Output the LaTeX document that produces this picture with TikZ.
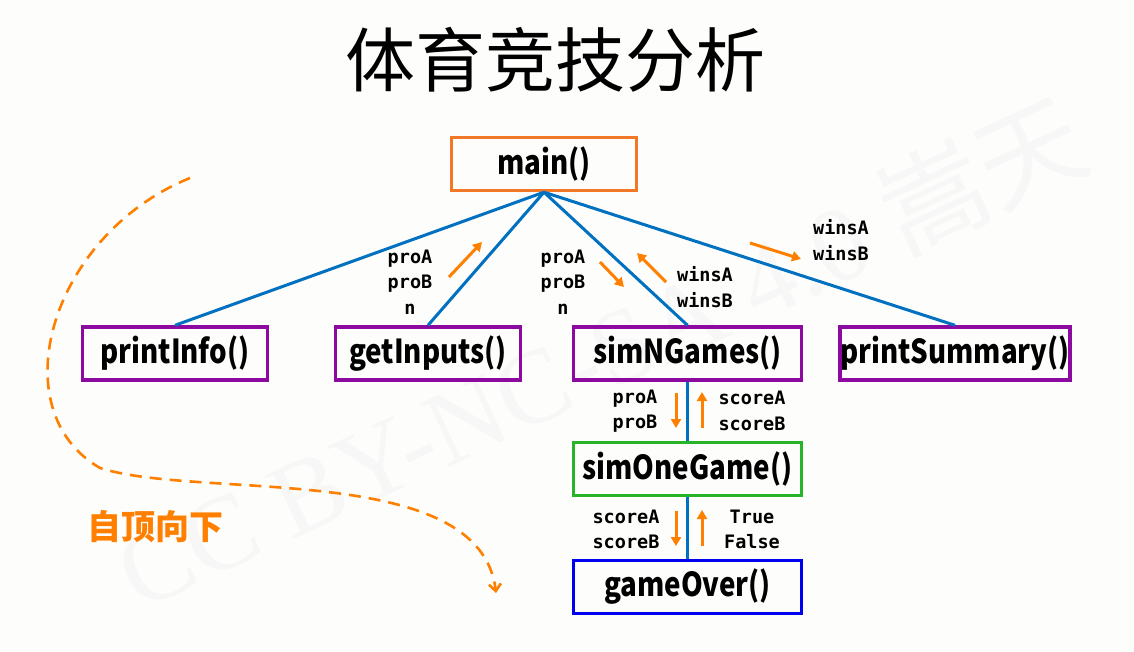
\documentclass[tikz,border=0pt]{standalone}
\usepackage{fontspec}
\setmainfont{Open Sans}
\setmonofont{DejaVu Sans Mono}
\newfontfamily\cjk{Noto Sans CJK SC}
\newfontfamily\boxfont[FakeStretch=0.84]{Noto Sans CJK SC}
\newfontfamily\markfont{Liberation Serif}
\usetikzlibrary{arrows.meta}
\definecolor{mainorange}{RGB}{242,120,40}
\definecolor{funcpurple}{RGB}{140,10,160}
\definecolor{gamegreen}{RGB}{40,180,40}
\definecolor{overblue}{RGB}{0,0,240}
\definecolor{callblue}{RGB}{0,112,192}
\definecolor{floworange}{RGB}{255,128,0}

\begin{document}
\begin{tikzpicture}[x=1pt,y=-1pt,
  func/.style={rectangle, draw=#1, line width=3.4pt, minimum height=53pt, inner sep=0pt,
    font=\boxfont\bfseries\fontsize{33}{35}\selectfont},
  call/.style={draw=callblue, line width=3pt},
  data/.style={font=\fontsize{18.5}{25.5}\selectfont\ttfamily\bfseries, align=center, inner sep=0pt},
  flow/.style={draw=floworange, line width=3pt, -{Triangle[length=9pt,width=10pt]}}]
\useasboundingbox[fill={rgb,255:red,253;green,253;blue,251}] (0,0) rectangle (1134,652);

% watermark
\node[rotate=25, text=black!3, font=\markfont\fontsize{106}{106}\selectfont] (mark) at (600,352)
  {CC BY-NC-SA 4.0 {\cjk 嵩天}};

% title
\node[font=\cjk\fontsize{70}{70}\selectfont] (title) at (555,60) {体育竞技分析};

% functions
\node[func=mainorange, minimum width=185pt] (main) at (544,164) {main()};
\node[func=funcpurple, minimum width=185pt] (info) at (175,353.5) {printInfo()};
\node[func=funcpurple, minimum width=185pt] (inputs) at (428,353.5) {getInputs()};
\node[func=funcpurple, minimum width=228pt] (ngames) at (687.5,353.5) {simNGames()};
\node[func=funcpurple, minimum width=229pt] (summary) at (955,353.5) {printSummary()};
\node[func=gamegreen, minimum width=228pt] (onegame) at (687.5,469) {simOneGame()};
\node[func=overblue, minimum width=228pt] (over) at (687.5,587) {gameOver()};

% calls
\foreach \f in {info,inputs,ngames,summary}
  \draw[call] (main.south) -- (\f.north);
\draw[call] (ngames.south) -- (onegame.north);
\draw[call] (onegame.south) -- (over.north);

% data passed
\node[data] (inputsres) at (410,282) {proA\\proB\\n};
\node[data] (ngamesargs) at (563,282) {proA\\proB\\n};
\node[data] (ngamesres) at (705,287) {winsA\\winsB};
\node[data] (summaryargs) at (841,240) {winsA\\winsB};
\node[data] (onegameargs) at (635,411) {proA\\proB};
\node[data] (onegameres) at (752,411) {scoreA\\scoreB};
\node[data] (overargs) at (626,529.5) {scoreA\\scoreB};
\node[data] (overres) at (752,529.5) {True\\False};

% data flow arrows
\foreach \n/\xa/\ya/\xb/\yb in {a/449/277/482/242, b/600/262/624/287,
    c/666/282/637/253, d/750/243/801/259,
    e/676/393/676/428, f/702/428/702/392,
    g/676/511/676/546, h/702/546/702/510}{
  \coordinate (flow-\n-from) at (\xa,\ya);
  \coordinate (flow-\n-to) at (\xb,\yb);
  \draw[flow] (flow-\n-from) -- (flow-\n-to);
}

% top-down hint
\coordinate (curvestart) at (190,178);
\coordinate (curvemid) at (100,468);
\coordinate (curveend) at (496,593);
\draw[floworange, line width=2.6pt, dash pattern=on 12pt off 8pt, -{Straight Barb[length=7pt,width=12pt]}]
  (curvestart) .. controls (50,235) and (0,410) .. (curvemid)
  .. controls (200,500) and (480,460) .. (curveend);
\node[text=floworange, font=\cjk\bfseries\fontsize{34}{34}\selectfont] (topdown) at (155,527) {自顶向下};
\end{tikzpicture}
\end{document}
